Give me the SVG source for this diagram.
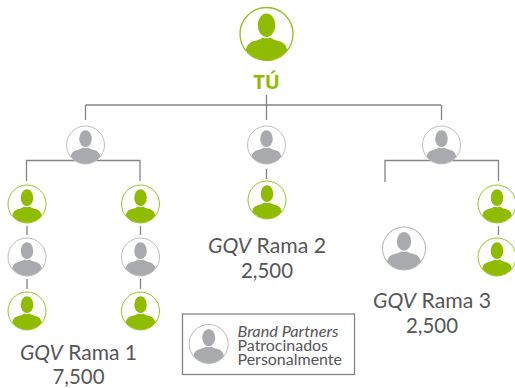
<svg xmlns="http://www.w3.org/2000/svg" xmlns:xlink="http://www.w3.org/1999/xlink" width="515" height="388" viewBox="0 0 515 388">
<style>
.g{color:#8fbc00;--ring:#95bf1a}
.n{color:#a9aaae;--ring:#b8b8ba}
.ring{fill:#fff;stroke:var(--ring);stroke-width:.05}
.fig{fill:currentColor}
.t{font-family:Lato,"Open Sans","Noto Sans",sans-serif;fill:#555658;text-anchor:middle;font-size:21px}
.i{font-style:italic}
.l{font-size:14.5px;text-anchor:start}
#connectors path{fill:none;stroke:#848587;stroke-width:1.3}
</style>
<defs>
<g id="person">
<circle class="ring" r="1"/>
<ellipse class="fig" cx="0" cy="-.33" rx=".33" ry=".44"/>
<path class="fig" d="M-.78 .6C-.74 .4-.62 .3-.45 .26C-.32 .23-.2 .2-.15 .13Q0 .2 .15 .13C.2 .2 .32 .23 .45 .26C.62 .3 .74 .4 .78 .6A.98 .98 0 0 1-.78 .6Z"/>
</g>
</defs>
<g id="connectors">
<path d="M266.5 95V120M85.5 105H441.5M85.5 105V120M441.5 105V120"/>
<path d="M26.5 181V160.5H140V181M266.5 169V179M385 182V160.5H498.5V181"/>
<path d="M27 226V235M140.5 226V235M27 279V289M140.5 279V289M498.5 226V235"/>
</g>
<g id="tu"><use xlink:href="#person" class="g" transform="translate(266.5 34) scale(26.5)"/>
<text x="266.5" y="89" style="font-family:'Open Sans','Noto Sans',sans-serif;font-weight:700;font-size:20px;text-anchor:middle;fill:#8fbc00">TÚ</text></g>
<g id="n1"><use xlink:href="#person" class="n" transform="translate(85.5 145) scale(19)"/></g>
<g id="n2"><use xlink:href="#person" class="n" transform="translate(266.5 145) scale(19)"/></g>
<g id="n3"><use xlink:href="#person" class="n" transform="translate(441.5 145) scale(19)"/></g>
<g id="n4"><use xlink:href="#person" class="g" transform="translate(27 204) scale(19)"/></g>
<g id="n5"><use xlink:href="#person" class="g" transform="translate(140.5 204) scale(19)"/></g>
<g id="n6"><use xlink:href="#person" class="n" transform="translate(27 257) scale(19)"/></g>
<g id="n7"><use xlink:href="#person" class="n" transform="translate(140.5 257) scale(19)"/></g>
<g id="n8"><use xlink:href="#person" class="g" transform="translate(27 311) scale(19)"/></g>
<g id="n9"><use xlink:href="#person" class="g" transform="translate(140.5 311) scale(19)"/></g>
<g id="n10"><use xlink:href="#person" class="g" transform="translate(267 200) scale(19)"/></g>
<g id="n11"><use xlink:href="#person" class="g" transform="translate(497 204) scale(19)"/></g>
<g id="n12"><use xlink:href="#person" class="g" transform="translate(497 257) scale(19)"/></g>
<g id="n13"><use xlink:href="#person" class="n" transform="translate(404 248.5) scale(21.5)"/></g>
<g id="rama1"><text class="t" x="78.5" y="360" textLength="117" lengthAdjust="spacingAndGlyphs"><tspan class="i">GQV</tspan> Rama 1</text><text class="t" x="78.5" y="384" textLength="52" lengthAdjust="spacingAndGlyphs">7,500</text></g>
<g id="rama2"><text class="t" x="267" y="253" textLength="118" lengthAdjust="spacingAndGlyphs"><tspan class="i">GQV</tspan> Rama 2</text><text class="t" x="267" y="278" textLength="52" lengthAdjust="spacingAndGlyphs">2,500</text></g>
<g id="rama3"><text class="t" x="432" y="308" textLength="118" lengthAdjust="spacingAndGlyphs"><tspan class="i">GQV</tspan> Rama 3</text><text class="t" x="432" y="333" textLength="52" lengthAdjust="spacingAndGlyphs">2,500</text></g>
<g id="legend">
<rect x="182.5" y="314" width="172" height="60.5" fill="#fff" stroke="#848587" stroke-width="1.3"/>
<use xlink:href="#person" class="n" transform="translate(208.7 344) scale(19.5)"/>
<text class="t l i" x="237.5" y="336.5" textLength="101" lengthAdjust="spacingAndGlyphs">Brand Partners</text>
<text class="t l" x="237.5" y="351" textLength="90.5" lengthAdjust="spacingAndGlyphs">Patrocinados</text>
<text class="t l" x="237.5" y="365" textLength="104.5" lengthAdjust="spacingAndGlyphs">Personalmente</text>
</g>
</svg>
